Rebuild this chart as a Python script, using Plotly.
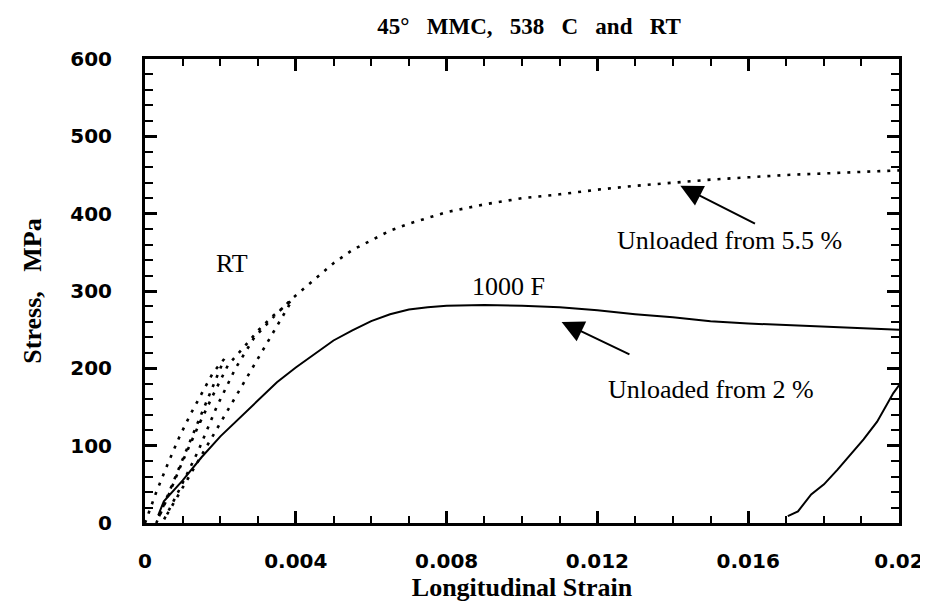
import plotly.graph_objects as go

# ---- data ----
# Room temperature (RT) record, dotted: load, unload/reload loops, then continued loading
rt_strain = [0.0000, 0.0003, 0.0006, 0.0009, 0.0012, 0.0015, 0.0018, 0.0021,
             0.0015, 0.0009, 0.0003,
             0.0006, 0.0010, 0.0014, 0.0018, 0.0022, 0.0026, 0.0030, 0.0034, 0.0039,
             0.0027, 0.0015, 0.0005,
             0.0009, 0.0014, 0.0019, 0.0024, 0.0029, 0.0034, 0.0039,
             0.0045, 0.0050, 0.0055, 0.0060, 0.0065, 0.0070, 0.0075, 0.0080,
             0.0090, 0.0100, 0.0110, 0.0120, 0.0130, 0.0140, 0.0150, 0.0160,
             0.0170, 0.0180, 0.0190, 0.0200]
rt_stress = [0, 40, 76, 110, 140, 168, 194, 212,
             141, 71, 0,
             33, 80, 124, 165, 204, 226, 249, 268, 288,
             188, 88, 4,
             42, 92, 150, 200, 240, 266, 290,
             315, 336, 353, 366, 378, 387, 395, 402,
             412, 420, 425, 431, 436, 440, 444, 447,
             450, 452, 454, 456]

# 538 C (1000 F) record, solid
ht_strain = [0.00035, 0.0005, 0.0010, 0.0015, 0.0020, 0.0025, 0.0030, 0.0035, 0.0040,
             0.0045, 0.0050, 0.0055, 0.0060, 0.0065, 0.0070, 0.0075, 0.0080,
             0.0090, 0.0100, 0.0110, 0.0120, 0.0130, 0.0140, 0.0150, 0.0160,
             0.0170, 0.0180, 0.0190, 0.0200]
ht_stress = [10, 28, 55, 85, 112, 135, 158, 182, 201,
             219, 236, 249, 261, 270, 276, 279, 281,
             282, 281, 279, 275, 270, 266, 261, 258,
             256, 254, 252, 250]

# 538 C reloading branch visible at the right (after unloading from 2 %)
rl_strain = [0.01705, 0.01732, 0.01767, 0.01801, 0.01837, 0.01871, 0.01906,
             0.01942, 0.01968, 0.01985, 0.0200]
rl_stress = [9, 15, 37, 50, 69, 88, 108, 131, 153, 168, 178]

x_tickvals = [0, 0.004, 0.008, 0.012, 0.016, 0.02]
x_ticktext = ["0", "0.004", "0.008", "0.012", "0.016", "0.02"]
y_tickvals = [0, 100, 200, 300, 400, 500, 600]

SERIF = "Liberation Serif"
SANS = "DejaVu Sans"

fig = go.Figure()
fig.add_trace(go.Scatter(x=rt_strain, y=rt_stress, mode="lines", name="RT",
                         line=dict(color="black", width=2.6, dash="3px,7px")))
fig.add_trace(go.Scatter(x=ht_strain, y=ht_stress, mode="lines", name="1000 F",
                         line=dict(color="black", width=2)))
fig.add_trace(go.Scatter(x=rl_strain, y=rl_stress, mode="lines", name="1000 F reload",
                         line=dict(color="black", width=2)))

axis_common = dict(
    showgrid=False, zeroline=False, showline=True, linecolor="black", linewidth=3,
    mirror="allticks", ticks="inside", ticklen=12, tickwidth=2.5, tickcolor="black",
    tickfont=dict(family=SANS, size=20, color="black", weight="bold"),
)

fig.update_xaxes(range=[0, 0.02], tickvals=x_tickvals, ticktext=x_ticktext,
                 minor=dict(dtick=0.001, ticks="inside", ticklen=7, tickwidth=2,
                            tickcolor="black", showgrid=False),
                 ticklabelstandoff=18,
                 title=dict(text="Longitudinal Strain",
                            font=dict(family=SERIF, size=26, color="black", weight="bold"),
                            standoff=6),
                 **axis_common)
fig.update_yaxes(range=[0, 600], tickvals=y_tickvals,
                 minor=dict(dtick=20, ticks="inside", ticklen=8, tickwidth=2,
                            tickcolor="black", showgrid=False),
                 ticklabelstandoff=26,
                 title=dict(text="Stress,\u00a0\u00a0 MPa",
                            font=dict(family=SERIF, size=26, color="black", weight="bold"),
                            standoff=22),
                 **axis_common)

ann_font = dict(family=SERIF, size=26, color="black")
annotations = [
    dict(x=0.00231, y=336, text="RT", showarrow=False, font=ann_font),
    dict(x=0.00965, y=306, text="1000 F", showarrow=False, font=ann_font),
    dict(x=0.01551, y=365, text="Unloaded from 5.5 %", showarrow=False, font=ann_font),
    dict(x=0.01501, y=173, text="Unloaded from 2 %", showarrow=False, font=ann_font),
    dict(x=0.0142, y=436, ax=0.01622, ay=386, xref="x", yref="y", axref="x", ayref="y",
         text="", showarrow=True, arrowhead=2, arrowsize=2.2, arrowwidth=2,
         arrowcolor="black", standoff=0),
    dict(x=0.01105, y=260, ax=0.01289, ay=217, xref="x", yref="y", axref="x", ayref="y",
         text="", showarrow=True, arrowhead=2, arrowsize=2.2, arrowwidth=2,
         arrowcolor="black", standoff=0),
]

fig.update_layout(
    width=928, height=613,
    margin=dict(l=137, r=29, t=51, b=98),
    paper_bgcolor="white", plot_bgcolor="white",
    showlegend=False,
    title=dict(text="45°\u00a0\u00a0 MMC,\u00a0\u00a0 538\u00a0\u00a0 C\u00a0\u00a0 and\u00a0\u00a0 RT",
               x=0.5615, xanchor="center", y=1 - 18 / 613, yanchor="middle",
               font=dict(family=SERIF, size=23, color="black", weight="bold")),
    annotations=annotations,
)

fig.write_html("out.html")
